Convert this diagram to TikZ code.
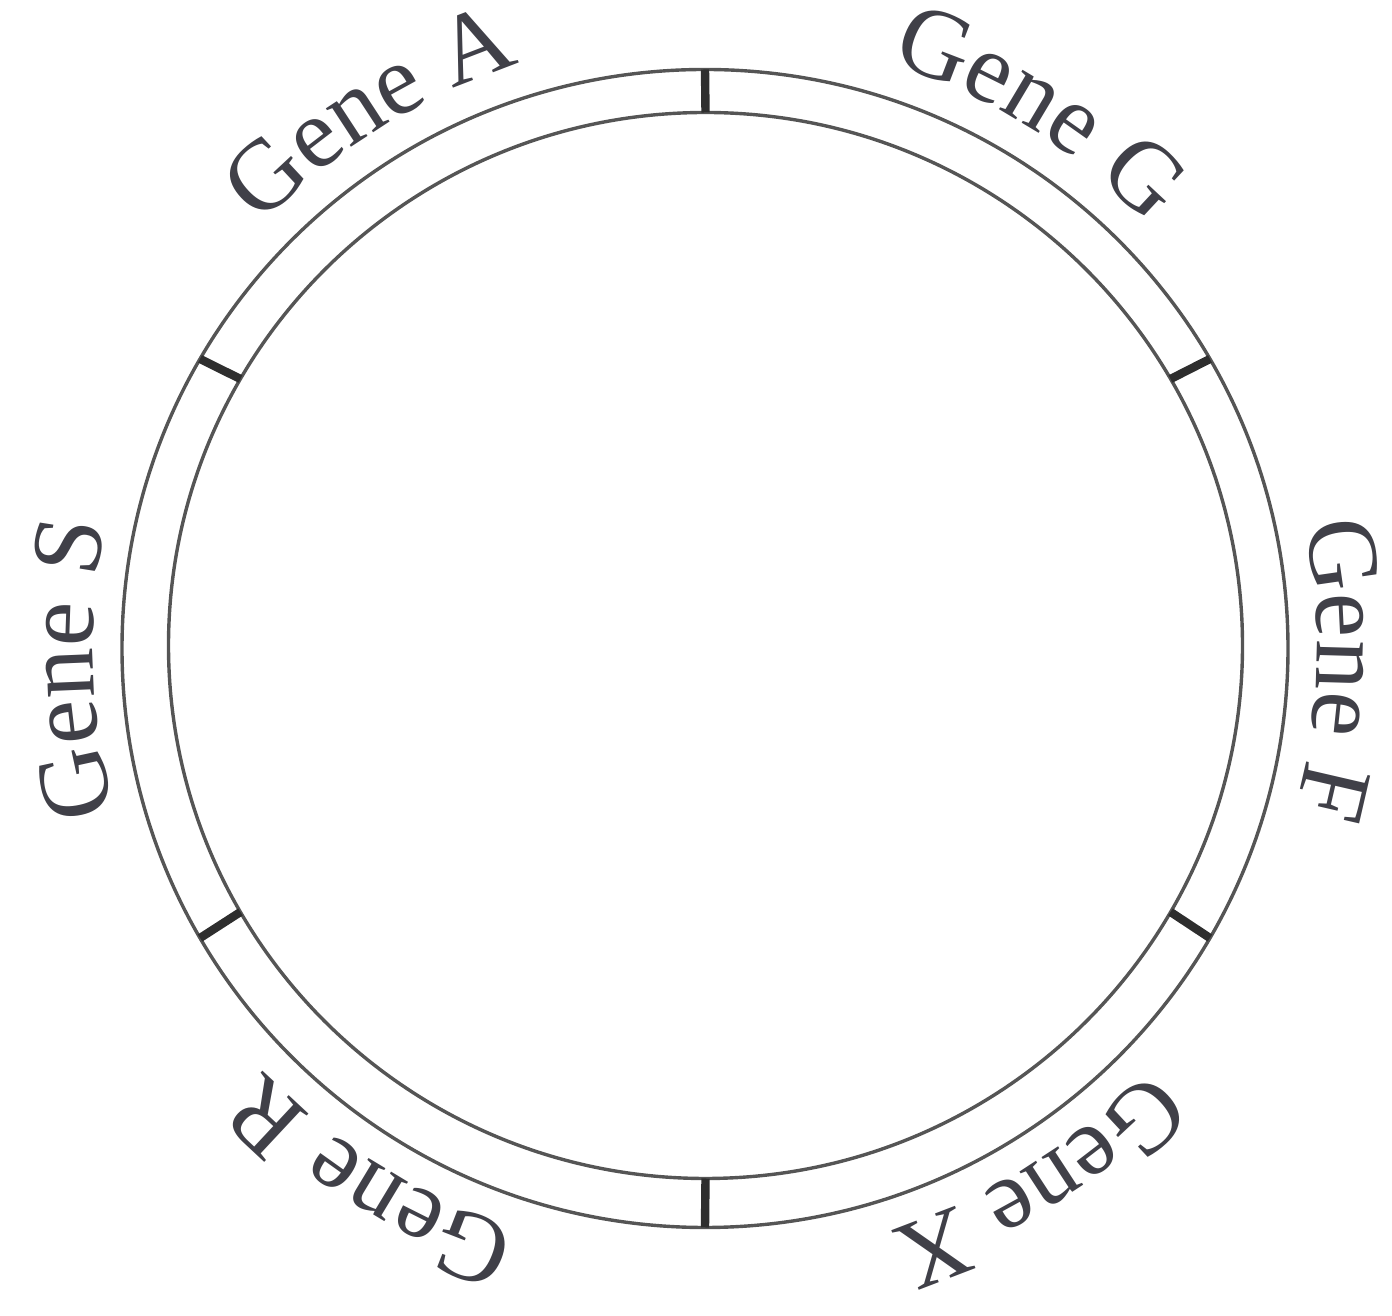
\documentclass[tikz,border=0pt]{standalone}
\usepackage{fontspec}
\setmainfont{Liberation Serif}
\usetikzlibrary{decorations.text}
\definecolor{ringgray}{HTML}{555555}
\definecolor{tickgray}{HTML}{2E2E2E}
\definecolor{labelgray}{HTML}{404048}
\newcommand\genelabelfont{\fontsize{50pt}{58pt}\selectfont}
\tikzset{
  ring/.style={draw=ringgray, line width=1.7pt},
  ticker/.style={draw=tickgray, line width=4.2pt},
  genelabel/.style={decorate, decoration={text along path, text align=center, text color=labelgray, text={#1}}}
}
\begin{document}
\begin{tikzpicture}
\useasboundingbox (0,0) rectangle (696pt,658pt);
\coordinate (C) at (352.5pt,334.5pt);
\coordinate (Co) at (352.5pt,333.75pt);
\coordinate (Ci) at (352.75pt,335.25pt);
\draw[ring] (Co) ellipse [x radius=291.5pt, y radius=289.5pt];
\draw[ring] (Ci) ellipse [x radius=268.5pt, y radius=266.5pt];
\foreach \a in {90,30,-30,-90,-150,150}
  \draw[ticker] ([shift={(\a:268.5pt and 266.5pt)}]Ci) -- ([shift={(\a:291.5pt and 289.5pt)}]Co);
\path[genelabel={|\genelabelfont|Gene A}] ([shift={(162:306pt)}]C) arc[start angle=162, end angle=82, radius=306pt];
\path[genelabel={|\genelabelfont|Gene G}] ([shift={(98:306pt)}]C) arc[start angle=98, end angle=18, radius=306pt];
\path[genelabel={|\genelabelfont|Gene F}] ([shift={(38:306pt)}]C) arc[start angle=38, end angle=-42, radius=306pt];
\path[genelabel={|\genelabelfont|Gene X}] ([shift={(-18:306pt)}]C) arc[start angle=-18, end angle=-98, radius=306pt];
\path[genelabel={|\genelabelfont|Gene R}] ([shift={(-82:306pt)}]C) arc[start angle=-82, end angle=-162, radius=306pt];
\path[genelabel={|\genelabelfont|Gene S}] ([shift={(222:306pt)}]C) arc[start angle=222, end angle=142, radius=306pt];
\end{tikzpicture}
\end{document}
